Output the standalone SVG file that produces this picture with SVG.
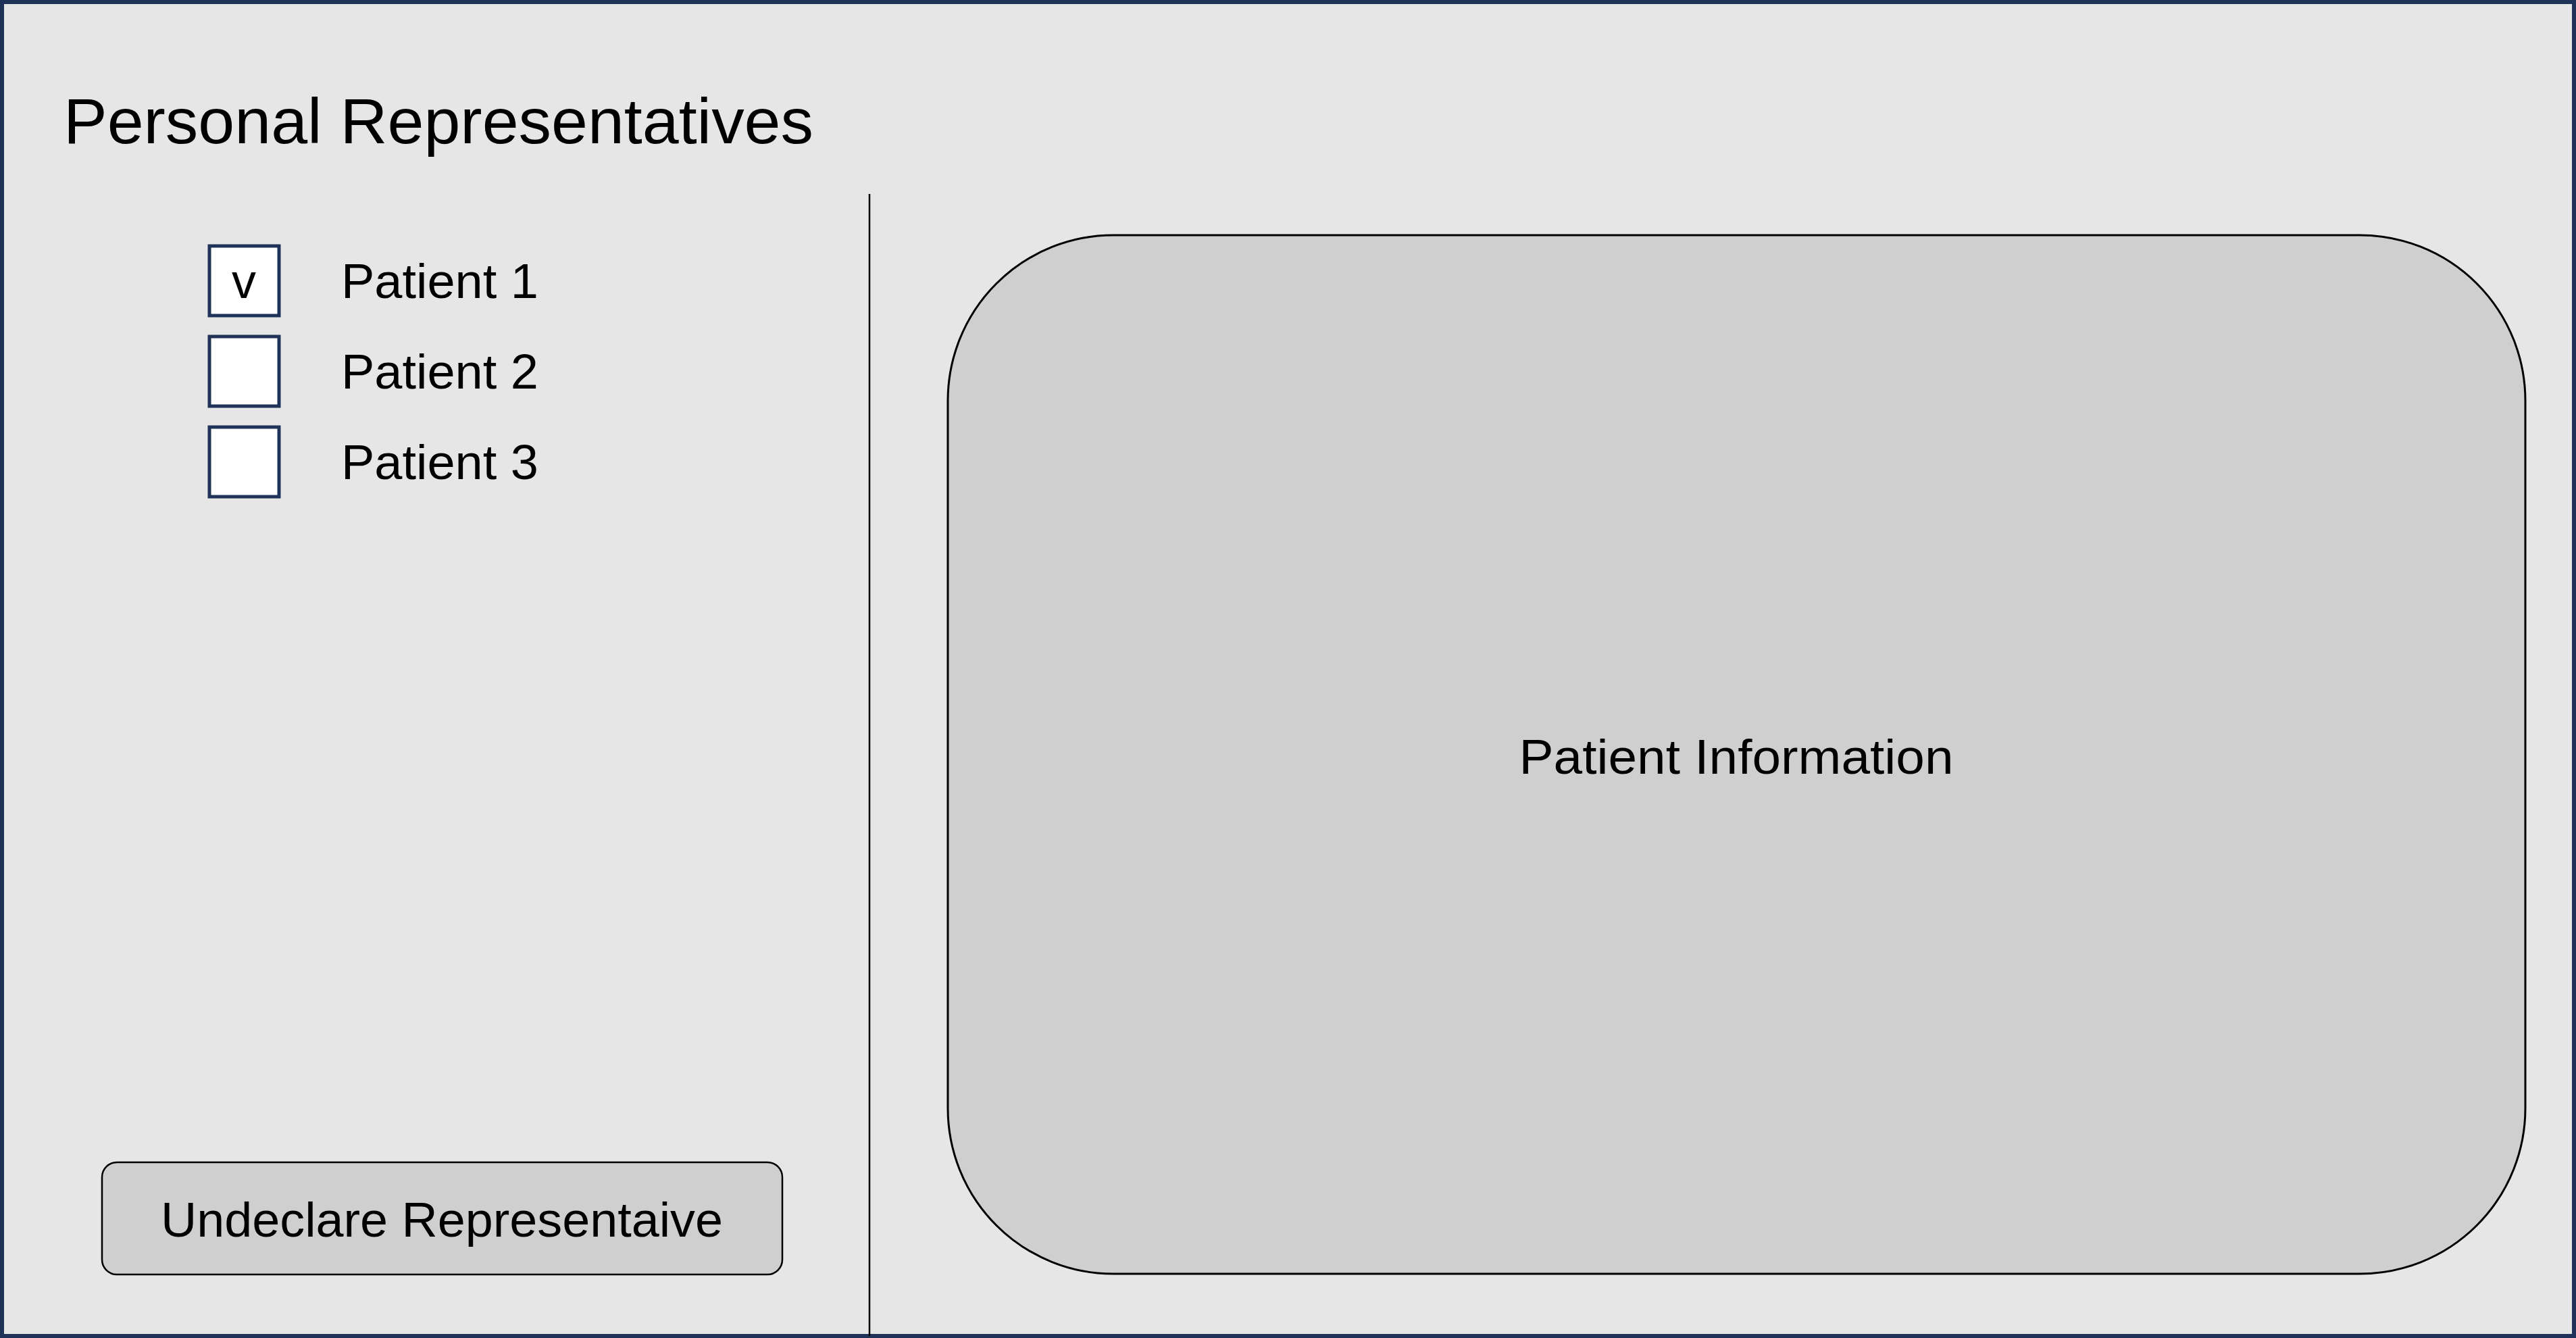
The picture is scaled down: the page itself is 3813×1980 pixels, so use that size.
<svg xmlns="http://www.w3.org/2000/svg" width="3813" height="1980" viewBox="0 0 3813 1980">
<style>
  .t { font-family: "Liberation Sans", Arial, sans-serif; fill: #000; }
  .box { fill: #ffffff; stroke: #1f3358; stroke-width: 5; }
</style>
<g id="frame">
  <rect x="3" y="3" width="3807" height="1974" fill="#e6e6e6" stroke="#1f3358" stroke-width="6"/>
</g>
<g id="title">
  <text class="t" x="94" y="212" font-size="94" textLength="1110" lengthAdjust="spacingAndGlyphs">Personal Representatives</text>
</g>
<g id="connectors">
  <line x1="1287" y1="287" x2="1287" y2="1977" stroke="#000" stroke-width="2.5"/>
</g>
<g id="patient1">
  <rect class="box" x="310" y="364" width="103" height="103"/>
  <text class="t" x="361" y="441" font-size="72" text-anchor="middle">v</text>
  <text class="t" x="505" y="441" font-size="72" textLength="292" lengthAdjust="spacingAndGlyphs">Patient 1</text>
</g>
<g id="patient2">
  <rect class="box" x="310" y="498" width="103" height="103"/>
  <text class="t" x="505" y="575" font-size="72" textLength="292" lengthAdjust="spacingAndGlyphs">Patient 2</text>
</g>
<g id="patient3">
  <rect class="box" x="310" y="632" width="103" height="103"/>
  <text class="t" x="505" y="709" font-size="72" textLength="292" lengthAdjust="spacingAndGlyphs">Patient 3</text>
</g>
<g id="undeclare-button">
  <rect x="151" y="1720" width="1007" height="166" rx="22" ry="22" fill="#d0cfd0" stroke="#000" stroke-width="2.5"/>
  <text class="t" x="654" y="1830" font-size="72" text-anchor="middle" textLength="832" lengthAdjust="spacingAndGlyphs">Undeclare Representaive</text>
</g>
<g id="patient-information">
  <rect x="1403" y="348" width="2335" height="1537" rx="245" ry="245" fill="#d0cfd0" stroke="#000" stroke-width="3"/>
  <text class="t" x="2570" y="1145" font-size="72" text-anchor="middle" textLength="643" lengthAdjust="spacingAndGlyphs">Patient Information</text>
</g>
</svg>
